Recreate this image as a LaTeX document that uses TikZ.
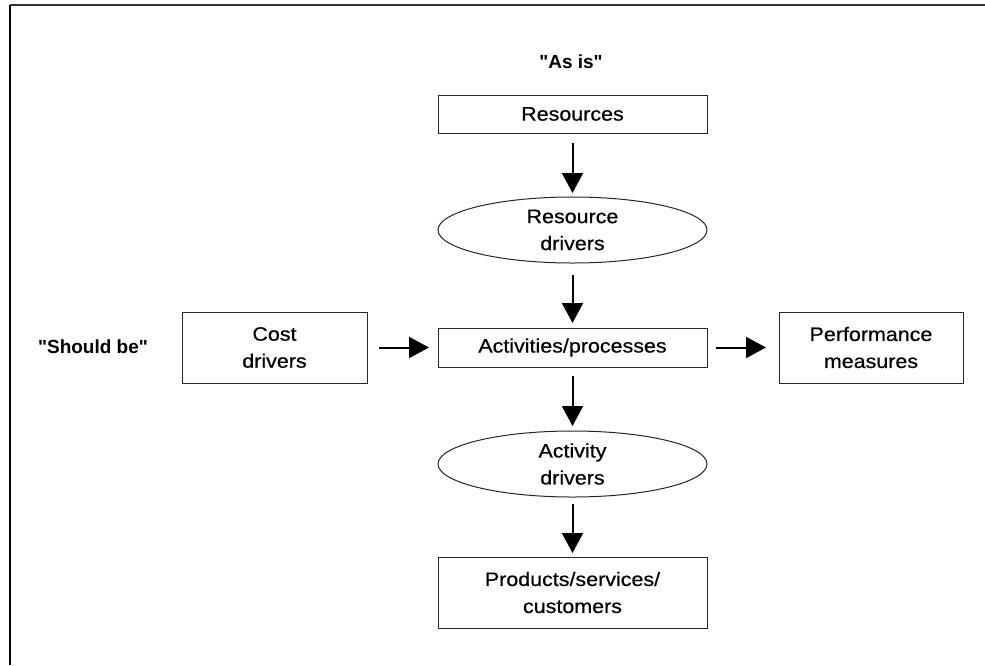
\documentclass[tikz,border=0pt]{standalone}
\usepackage{fontspec}
\setmainfont{Liberation Sans}[Ligatures=TeXOff, FakeStretch=1.1, FakeBold=0.5]
\newfontfamily\titlefont{Liberation Sans}[Ligatures=TeXOff]
\usetikzlibrary{shapes.geometric,arrows.meta}
\begin{document}
\begin{tikzpicture}[x=1pt,y=-1pt,
  every node/.style={font=\fontsize{19.5}{27}\selectfont, align=center, inner sep=0pt, outer sep=0pt},
  boxnode/.style={draw=black!85, line width=1pt, rectangle},
  ovalnode/.style={draw=black!85, line width=1pt, ellipse, minimum width=269pt, minimum height=66pt},
  arr/.style={line width=2pt, -{Triangle[length=20pt,width=21pt]}},
  titletext/.style={font=\titlefont\fontsize{19}{27}\selectfont\bfseries}
]
\useasboundingbox (0,0) rectangle (985,665);
% frame (cropped at right and bottom)
\draw[line width=1.6pt, black!80] (9.5,5) -- (985,5);
\draw[line width=2pt] (9.5,5) -- (9.5,665);

\node[titletext] (asis) at (571,62) {"As is"};
\node[titletext] (should) at (93,347) {"Should be"};

\node[boxnode, minimum width=269pt, minimum height=38pt] (res) at (572.5,114) {Resources};
\node[ovalnode] (rd) at (572.5,230) {Resource\\drivers};
\node[boxnode, minimum width=269pt, minimum height=39pt] (act) at (572.5,347.5) {Activities/processes};
\node[boxnode, minimum width=185pt, minimum height=71pt] (cost) at (274.5,347.5) {Cost\\drivers};
\node[boxnode, minimum width=184pt, minimum height=71pt] (perf) at (871,347.5) {Performance\\measures};
\node[ovalnode] (ad) at (572.5,464) {Activity\\drivers};
\node[boxnode, minimum width=269pt, minimum height=71pt] (prod) at (572.5,592.5) {Products/services/\\customers};

\draw[arr, shorten <=10pt, shorten >=4pt] (res) -- (rd);
\draw[arr, shorten <=12pt, shorten >=5pt] (rd) -- (act);
\draw[arr, shorten <=9pt, shorten >=5pt] (act) -- (ad);
\draw[arr, shorten <=7pt, shorten >=4pt] (ad) -- (prod);
\draw[arr, shorten <=12pt, shorten >=9pt] (cost) -- (act);
\draw[arr, shorten <=9pt, shorten >=13pt] (act) -- (perf);
\end{tikzpicture}
\end{document}
